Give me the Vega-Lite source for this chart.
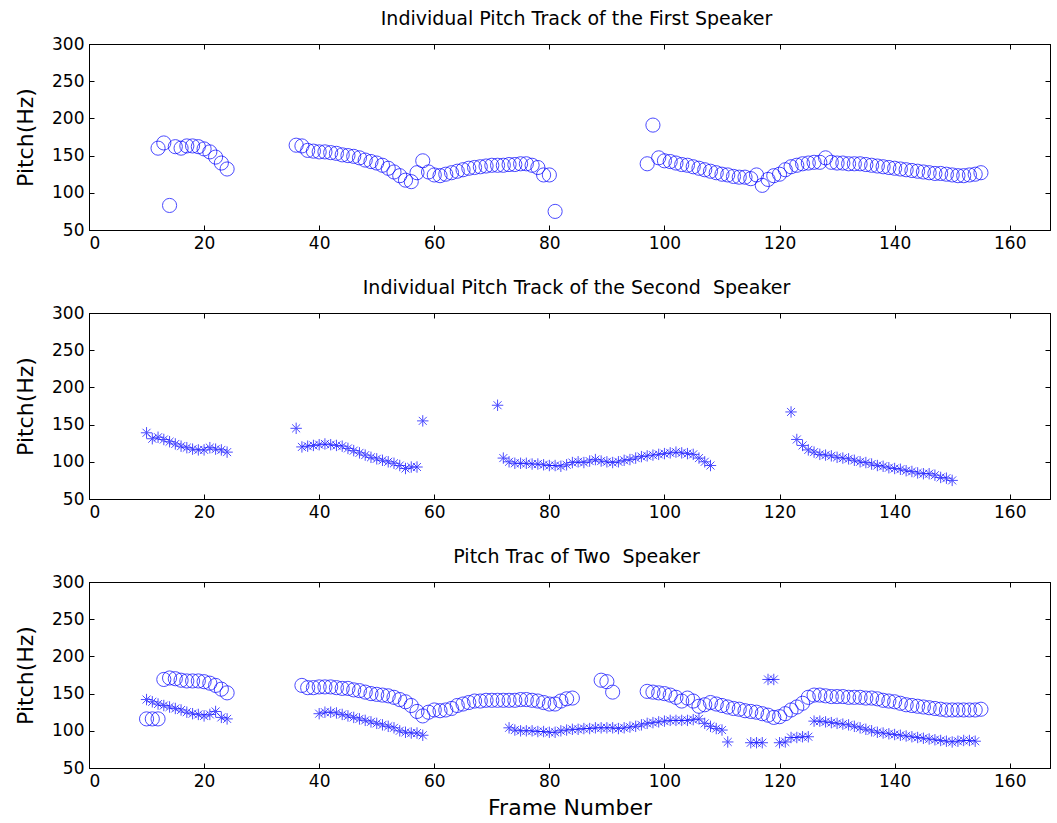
{
  "$schema": "https://vega.github.io/schema/vega-lite/v6.json",
  "bounds": "flush",
  "spacing": 83,
  "padding": {"left": 14, "top": 9, "right": 0, "bottom": 0},
  "background": "white",
  "datasets": {
    "first": [
      {"frame": 12, "pitch": 160, "speaker": "first"}, {"frame": 13, "pitch": 167, "speaker": "first"}, {"frame": 14, "pitch": 83, "speaker": "first"},
      {"frame": 15, "pitch": 162, "speaker": "first"}, {"frame": 16, "pitch": 160, "speaker": "first"}, {"frame": 17, "pitch": 163, "speaker": "first"},
      {"frame": 18, "pitch": 163, "speaker": "first"}, {"frame": 19, "pitch": 162, "speaker": "first"}, {"frame": 20, "pitch": 159, "speaker": "first"},
      {"frame": 21, "pitch": 155, "speaker": "first"}, {"frame": 22, "pitch": 148, "speaker": "first"}, {"frame": 23, "pitch": 140, "speaker": "first"},
      {"frame": 24, "pitch": 132, "speaker": "first"},
      {"frame": 36, "pitch": 164, "speaker": "first"}, {"frame": 37, "pitch": 163, "speaker": "first"}, {"frame": 38, "pitch": 157, "speaker": "first"},
      {"frame": 39, "pitch": 156, "speaker": "first"}, {"frame": 40, "pitch": 155, "speaker": "first"}, {"frame": 41, "pitch": 155, "speaker": "first"},
      {"frame": 42, "pitch": 154, "speaker": "first"}, {"frame": 43, "pitch": 153, "speaker": "first"}, {"frame": 44, "pitch": 151, "speaker": "first"},
      {"frame": 45, "pitch": 150, "speaker": "first"}, {"frame": 46, "pitch": 149, "speaker": "first"}, {"frame": 47, "pitch": 147, "speaker": "first"},
      {"frame": 48, "pitch": 144, "speaker": "first"}, {"frame": 49, "pitch": 142, "speaker": "first"}, {"frame": 50, "pitch": 140, "speaker": "first"},
      {"frame": 51, "pitch": 137, "speaker": "first"}, {"frame": 52, "pitch": 133, "speaker": "first"}, {"frame": 53, "pitch": 128, "speaker": "first"},
      {"frame": 54, "pitch": 123, "speaker": "first"}, {"frame": 55, "pitch": 117, "speaker": "first"}, {"frame": 56, "pitch": 115, "speaker": "first"},
      {"frame": 57, "pitch": 127, "speaker": "first"}, {"frame": 58, "pitch": 143, "speaker": "first"}, {"frame": 59, "pitch": 128, "speaker": "first"},
      {"frame": 60, "pitch": 124, "speaker": "first"}, {"frame": 61, "pitch": 123, "speaker": "first"}, {"frame": 62, "pitch": 125, "speaker": "first"},
      {"frame": 63, "pitch": 127, "speaker": "first"}, {"frame": 64, "pitch": 129, "speaker": "first"}, {"frame": 65, "pitch": 131, "speaker": "first"},
      {"frame": 66, "pitch": 133, "speaker": "first"}, {"frame": 67, "pitch": 134, "speaker": "first"}, {"frame": 68, "pitch": 135, "speaker": "first"},
      {"frame": 69, "pitch": 136, "speaker": "first"}, {"frame": 70, "pitch": 137, "speaker": "first"}, {"frame": 71, "pitch": 137, "speaker": "first"},
      {"frame": 72, "pitch": 137, "speaker": "first"}, {"frame": 73, "pitch": 138, "speaker": "first"}, {"frame": 74, "pitch": 138, "speaker": "first"},
      {"frame": 75, "pitch": 139, "speaker": "first"}, {"frame": 76, "pitch": 139, "speaker": "first"}, {"frame": 77, "pitch": 137, "speaker": "first"},
      {"frame": 78, "pitch": 134, "speaker": "first"}, {"frame": 79, "pitch": 124, "speaker": "first"}, {"frame": 80, "pitch": 124, "speaker": "first"},
      {"frame": 81, "pitch": 75, "speaker": "first"},
      {"frame": 97, "pitch": 139, "speaker": "first"}, {"frame": 98, "pitch": 191, "speaker": "first"}, {"frame": 99, "pitch": 147, "speaker": "first"},
      {"frame": 100, "pitch": 143, "speaker": "first"}, {"frame": 101, "pitch": 142, "speaker": "first"}, {"frame": 102, "pitch": 140, "speaker": "first"},
      {"frame": 103, "pitch": 138, "speaker": "first"}, {"frame": 104, "pitch": 137, "speaker": "first"}, {"frame": 105, "pitch": 135, "speaker": "first"},
      {"frame": 106, "pitch": 133, "speaker": "first"}, {"frame": 107, "pitch": 131, "speaker": "first"}, {"frame": 108, "pitch": 129, "speaker": "first"},
      {"frame": 109, "pitch": 127, "speaker": "first"}, {"frame": 110, "pitch": 125, "speaker": "first"}, {"frame": 111, "pitch": 124, "speaker": "first"},
      {"frame": 112, "pitch": 122, "speaker": "first"}, {"frame": 113, "pitch": 121, "speaker": "first"}, {"frame": 114, "pitch": 121, "speaker": "first"},
      {"frame": 115, "pitch": 119, "speaker": "first"}, {"frame": 116, "pitch": 124, "speaker": "first"}, {"frame": 117, "pitch": 110, "speaker": "first"},
      {"frame": 118, "pitch": 118, "speaker": "first"}, {"frame": 119, "pitch": 123, "speaker": "first"}, {"frame": 120, "pitch": 125, "speaker": "first"},
      {"frame": 121, "pitch": 131, "speaker": "first"}, {"frame": 122, "pitch": 135, "speaker": "first"}, {"frame": 123, "pitch": 137, "speaker": "first"},
      {"frame": 124, "pitch": 139, "speaker": "first"}, {"frame": 125, "pitch": 140, "speaker": "first"}, {"frame": 126, "pitch": 141, "speaker": "first"},
      {"frame": 127, "pitch": 141, "speaker": "first"}, {"frame": 128, "pitch": 147, "speaker": "first"}, {"frame": 129, "pitch": 141, "speaker": "first"},
      {"frame": 130, "pitch": 140, "speaker": "first"}, {"frame": 131, "pitch": 140, "speaker": "first"}, {"frame": 132, "pitch": 139, "speaker": "first"},
      {"frame": 133, "pitch": 139, "speaker": "first"}, {"frame": 134, "pitch": 139, "speaker": "first"}, {"frame": 135, "pitch": 138, "speaker": "first"},
      {"frame": 136, "pitch": 137, "speaker": "first"}, {"frame": 137, "pitch": 136, "speaker": "first"}, {"frame": 138, "pitch": 135, "speaker": "first"},
      {"frame": 139, "pitch": 134, "speaker": "first"}, {"frame": 140, "pitch": 133, "speaker": "first"}, {"frame": 141, "pitch": 132, "speaker": "first"},
      {"frame": 142, "pitch": 131, "speaker": "first"}, {"frame": 143, "pitch": 130, "speaker": "first"}, {"frame": 144, "pitch": 129, "speaker": "first"},
      {"frame": 145, "pitch": 128, "speaker": "first"}, {"frame": 146, "pitch": 127, "speaker": "first"}, {"frame": 147, "pitch": 126, "speaker": "first"},
      {"frame": 148, "pitch": 126, "speaker": "first"}, {"frame": 149, "pitch": 125, "speaker": "first"}, {"frame": 150, "pitch": 124, "speaker": "first"},
      {"frame": 151, "pitch": 123, "speaker": "first"}, {"frame": 152, "pitch": 123, "speaker": "first"}, {"frame": 153, "pitch": 124, "speaker": "first"},
      {"frame": 154, "pitch": 125, "speaker": "first"}, {"frame": 155, "pitch": 127, "speaker": "first"}
    ],
    "second": [
      {"frame": 10, "pitch": 139, "speaker": "second"}, {"frame": 11, "pitch": 131, "speaker": "second"}, {"frame": 12, "pitch": 133, "speaker": "second"},
      {"frame": 13, "pitch": 130, "speaker": "second"}, {"frame": 14, "pitch": 127, "speaker": "second"}, {"frame": 15, "pitch": 124, "speaker": "second"},
      {"frame": 16, "pitch": 121, "speaker": "second"}, {"frame": 17, "pitch": 119, "speaker": "second"}, {"frame": 18, "pitch": 117, "speaker": "second"},
      {"frame": 19, "pitch": 116, "speaker": "second"}, {"frame": 20, "pitch": 116, "speaker": "second"}, {"frame": 21, "pitch": 119, "speaker": "second"},
      {"frame": 22, "pitch": 117, "speaker": "second"}, {"frame": 23, "pitch": 116, "speaker": "second"}, {"frame": 24, "pitch": 113, "speaker": "second"},
      {"frame": 36, "pitch": 145, "speaker": "second"}, {"frame": 37, "pitch": 120, "speaker": "second"}, {"frame": 38, "pitch": 121, "speaker": "second"},
      {"frame": 39, "pitch": 122, "speaker": "second"}, {"frame": 40, "pitch": 123, "speaker": "second"}, {"frame": 41, "pitch": 124, "speaker": "second"},
      {"frame": 42, "pitch": 123, "speaker": "second"}, {"frame": 43, "pitch": 122, "speaker": "second"}, {"frame": 44, "pitch": 121, "speaker": "second"},
      {"frame": 45, "pitch": 118, "speaker": "second"}, {"frame": 46, "pitch": 115, "speaker": "second"}, {"frame": 47, "pitch": 112, "speaker": "second"},
      {"frame": 48, "pitch": 109, "speaker": "second"}, {"frame": 49, "pitch": 106, "speaker": "second"}, {"frame": 50, "pitch": 104, "speaker": "second"},
      {"frame": 51, "pitch": 102, "speaker": "second"}, {"frame": 52, "pitch": 100, "speaker": "second"}, {"frame": 53, "pitch": 98, "speaker": "second"},
      {"frame": 54, "pitch": 95, "speaker": "second"}, {"frame": 55, "pitch": 91, "speaker": "second"}, {"frame": 56, "pitch": 93, "speaker": "second"},
      {"frame": 57, "pitch": 93, "speaker": "second"}, {"frame": 58, "pitch": 155, "speaker": "second"},
      {"frame": 71, "pitch": 176, "speaker": "second"}, {"frame": 72, "pitch": 105, "speaker": "second"}, {"frame": 73, "pitch": 100, "speaker": "second"},
      {"frame": 74, "pitch": 98, "speaker": "second"}, {"frame": 75, "pitch": 98, "speaker": "second"}, {"frame": 76, "pitch": 98, "speaker": "second"},
      {"frame": 77, "pitch": 97, "speaker": "second"}, {"frame": 78, "pitch": 97, "speaker": "second"}, {"frame": 79, "pitch": 96, "speaker": "second"},
      {"frame": 80, "pitch": 95, "speaker": "second"}, {"frame": 81, "pitch": 95, "speaker": "second"}, {"frame": 82, "pitch": 94, "speaker": "second"},
      {"frame": 83, "pitch": 96, "speaker": "second"}, {"frame": 84, "pitch": 99, "speaker": "second"}, {"frame": 85, "pitch": 100, "speaker": "second"},
      {"frame": 86, "pitch": 99, "speaker": "second"}, {"frame": 87, "pitch": 101, "speaker": "second"}, {"frame": 88, "pitch": 103, "speaker": "second"},
      {"frame": 89, "pitch": 101, "speaker": "second"}, {"frame": 90, "pitch": 100, "speaker": "second"}, {"frame": 91, "pitch": 99, "speaker": "second"},
      {"frame": 92, "pitch": 100, "speaker": "second"}, {"frame": 93, "pitch": 102, "speaker": "second"}, {"frame": 94, "pitch": 103, "speaker": "second"},
      {"frame": 95, "pitch": 105, "speaker": "second"}, {"frame": 96, "pitch": 107, "speaker": "second"}, {"frame": 97, "pitch": 108, "speaker": "second"},
      {"frame": 98, "pitch": 109, "speaker": "second"}, {"frame": 99, "pitch": 110, "speaker": "second"}, {"frame": 100, "pitch": 111, "speaker": "second"},
      {"frame": 101, "pitch": 112, "speaker": "second"}, {"frame": 102, "pitch": 113, "speaker": "second"}, {"frame": 103, "pitch": 112, "speaker": "second"},
      {"frame": 104, "pitch": 111, "speaker": "second"}, {"frame": 105, "pitch": 110, "speaker": "second"}, {"frame": 106, "pitch": 105, "speaker": "second"},
      {"frame": 107, "pitch": 100, "speaker": "second"}, {"frame": 108, "pitch": 95, "speaker": "second"},
      {"frame": 122, "pitch": 167, "speaker": "second"}, {"frame": 123, "pitch": 130, "speaker": "second"}, {"frame": 124, "pitch": 122, "speaker": "second"},
      {"frame": 125, "pitch": 116, "speaker": "second"}, {"frame": 126, "pitch": 113, "speaker": "second"}, {"frame": 127, "pitch": 110, "speaker": "second"},
      {"frame": 128, "pitch": 109, "speaker": "second"}, {"frame": 129, "pitch": 108, "speaker": "second"}, {"frame": 130, "pitch": 106, "speaker": "second"},
      {"frame": 131, "pitch": 105, "speaker": "second"}, {"frame": 132, "pitch": 104, "speaker": "second"}, {"frame": 133, "pitch": 102, "speaker": "second"},
      {"frame": 134, "pitch": 100, "speaker": "second"}, {"frame": 135, "pitch": 99, "speaker": "second"}, {"frame": 136, "pitch": 97, "speaker": "second"},
      {"frame": 137, "pitch": 95, "speaker": "second"}, {"frame": 138, "pitch": 94, "speaker": "second"}, {"frame": 139, "pitch": 92, "speaker": "second"},
      {"frame": 140, "pitch": 91, "speaker": "second"}, {"frame": 141, "pitch": 90, "speaker": "second"}, {"frame": 142, "pitch": 88, "speaker": "second"},
      {"frame": 143, "pitch": 87, "speaker": "second"}, {"frame": 144, "pitch": 85, "speaker": "second"}, {"frame": 145, "pitch": 84, "speaker": "second"},
      {"frame": 146, "pitch": 84, "speaker": "second"}, {"frame": 147, "pitch": 82, "speaker": "second"}, {"frame": 148, "pitch": 79, "speaker": "second"},
      {"frame": 149, "pitch": 78, "speaker": "second"}, {"frame": 150, "pitch": 75, "speaker": "second"}
    ],
    "mixture": [
      {"frame": 10, "pitch": 116, "speaker": "first"}, {"frame": 11, "pitch": 116, "speaker": "first"}, {"frame": 12, "pitch": 116, "speaker": "first"},
      {"frame": 13, "pitch": 169, "speaker": "first"}, {"frame": 14, "pitch": 171, "speaker": "first"}, {"frame": 15, "pitch": 170, "speaker": "first"},
      {"frame": 16, "pitch": 168, "speaker": "first"}, {"frame": 17, "pitch": 167, "speaker": "first"}, {"frame": 18, "pitch": 167, "speaker": "first"},
      {"frame": 19, "pitch": 167, "speaker": "first"}, {"frame": 20, "pitch": 166, "speaker": "first"}, {"frame": 21, "pitch": 164, "speaker": "first"},
      {"frame": 22, "pitch": 161, "speaker": "first"}, {"frame": 23, "pitch": 156, "speaker": "first"}, {"frame": 24, "pitch": 151, "speaker": "first"},
      {"frame": 37, "pitch": 161, "speaker": "first"}, {"frame": 38, "pitch": 158, "speaker": "first"}, {"frame": 39, "pitch": 158, "speaker": "first"},
      {"frame": 40, "pitch": 159, "speaker": "first"}, {"frame": 41, "pitch": 159, "speaker": "first"}, {"frame": 42, "pitch": 159, "speaker": "first"},
      {"frame": 43, "pitch": 158, "speaker": "first"}, {"frame": 44, "pitch": 157, "speaker": "first"}, {"frame": 45, "pitch": 157, "speaker": "first"},
      {"frame": 46, "pitch": 155, "speaker": "first"}, {"frame": 47, "pitch": 154, "speaker": "first"}, {"frame": 48, "pitch": 152, "speaker": "first"},
      {"frame": 49, "pitch": 150, "speaker": "first"}, {"frame": 50, "pitch": 149, "speaker": "first"}, {"frame": 51, "pitch": 148, "speaker": "first"},
      {"frame": 52, "pitch": 147, "speaker": "first"}, {"frame": 53, "pitch": 145, "speaker": "first"}, {"frame": 54, "pitch": 142, "speaker": "first"},
      {"frame": 55, "pitch": 139, "speaker": "first"}, {"frame": 56, "pitch": 134, "speaker": "first"}, {"frame": 57, "pitch": 126, "speaker": "first"},
      {"frame": 58, "pitch": 120, "speaker": "first"}, {"frame": 59, "pitch": 125, "speaker": "first"}, {"frame": 60, "pitch": 128, "speaker": "first"},
      {"frame": 61, "pitch": 127, "speaker": "first"}, {"frame": 62, "pitch": 128, "speaker": "first"}, {"frame": 63, "pitch": 130, "speaker": "first"},
      {"frame": 64, "pitch": 134, "speaker": "first"}, {"frame": 65, "pitch": 136, "speaker": "first"}, {"frame": 66, "pitch": 138, "speaker": "first"},
      {"frame": 67, "pitch": 140, "speaker": "first"}, {"frame": 68, "pitch": 140, "speaker": "first"}, {"frame": 69, "pitch": 141, "speaker": "first"},
      {"frame": 70, "pitch": 141, "speaker": "first"}, {"frame": 71, "pitch": 141, "speaker": "first"}, {"frame": 72, "pitch": 141, "speaker": "first"},
      {"frame": 73, "pitch": 141, "speaker": "first"}, {"frame": 74, "pitch": 141, "speaker": "first"}, {"frame": 75, "pitch": 142, "speaker": "first"},
      {"frame": 76, "pitch": 142, "speaker": "first"}, {"frame": 77, "pitch": 141, "speaker": "first"}, {"frame": 78, "pitch": 140, "speaker": "first"},
      {"frame": 79, "pitch": 138, "speaker": "first"}, {"frame": 80, "pitch": 136, "speaker": "first"}, {"frame": 81, "pitch": 136, "speaker": "first"},
      {"frame": 82, "pitch": 140, "speaker": "first"}, {"frame": 83, "pitch": 143, "speaker": "first"}, {"frame": 84, "pitch": 144, "speaker": "first"},
      {"frame": 89, "pitch": 168, "speaker": "first"}, {"frame": 90, "pitch": 166, "speaker": "first"}, {"frame": 91, "pitch": 152, "speaker": "first"},
      {"frame": 97, "pitch": 153, "speaker": "first"}, {"frame": 98, "pitch": 152, "speaker": "first"}, {"frame": 99, "pitch": 151, "speaker": "first"},
      {"frame": 100, "pitch": 150, "speaker": "first"}, {"frame": 101, "pitch": 148, "speaker": "first"}, {"frame": 102, "pitch": 145, "speaker": "first"},
      {"frame": 103, "pitch": 140, "speaker": "first"}, {"frame": 104, "pitch": 144, "speaker": "first"}, {"frame": 105, "pitch": 140, "speaker": "first"},
      {"frame": 106, "pitch": 133, "speaker": "first"}, {"frame": 107, "pitch": 135, "speaker": "first"}, {"frame": 108, "pitch": 138, "speaker": "first"},
      {"frame": 109, "pitch": 136, "speaker": "first"}, {"frame": 110, "pitch": 134, "speaker": "first"}, {"frame": 111, "pitch": 132, "speaker": "first"},
      {"frame": 112, "pitch": 130, "speaker": "first"}, {"frame": 113, "pitch": 129, "speaker": "first"}, {"frame": 114, "pitch": 127, "speaker": "first"},
      {"frame": 115, "pitch": 126, "speaker": "first"}, {"frame": 116, "pitch": 125, "speaker": "first"}, {"frame": 117, "pitch": 123, "speaker": "first"},
      {"frame": 118, "pitch": 121, "speaker": "first"}, {"frame": 119, "pitch": 118, "speaker": "first"}, {"frame": 120, "pitch": 119, "speaker": "first"},
      {"frame": 121, "pitch": 123, "speaker": "first"}, {"frame": 122, "pitch": 128, "speaker": "first"}, {"frame": 123, "pitch": 132, "speaker": "first"},
      {"frame": 124, "pitch": 137, "speaker": "first"}, {"frame": 125, "pitch": 145, "speaker": "first"}, {"frame": 126, "pitch": 148, "speaker": "first"},
      {"frame": 127, "pitch": 148, "speaker": "first"}, {"frame": 128, "pitch": 147, "speaker": "first"}, {"frame": 129, "pitch": 146, "speaker": "first"},
      {"frame": 130, "pitch": 146, "speaker": "first"}, {"frame": 131, "pitch": 146, "speaker": "first"}, {"frame": 132, "pitch": 145, "speaker": "first"},
      {"frame": 133, "pitch": 145, "speaker": "first"}, {"frame": 134, "pitch": 145, "speaker": "first"}, {"frame": 135, "pitch": 144, "speaker": "first"},
      {"frame": 136, "pitch": 144, "speaker": "first"}, {"frame": 137, "pitch": 143, "speaker": "first"}, {"frame": 138, "pitch": 141, "speaker": "first"},
      {"frame": 139, "pitch": 140, "speaker": "first"}, {"frame": 140, "pitch": 139, "speaker": "first"}, {"frame": 141, "pitch": 137, "speaker": "first"},
      {"frame": 142, "pitch": 135, "speaker": "first"}, {"frame": 143, "pitch": 134, "speaker": "first"}, {"frame": 144, "pitch": 133, "speaker": "first"},
      {"frame": 145, "pitch": 132, "speaker": "first"}, {"frame": 146, "pitch": 131, "speaker": "first"}, {"frame": 147, "pitch": 130, "speaker": "first"},
      {"frame": 148, "pitch": 129, "speaker": "first"}, {"frame": 149, "pitch": 128, "speaker": "first"}, {"frame": 150, "pitch": 128, "speaker": "first"},
      {"frame": 151, "pitch": 128, "speaker": "first"}, {"frame": 152, "pitch": 128, "speaker": "first"}, {"frame": 153, "pitch": 128, "speaker": "first"},
      {"frame": 154, "pitch": 128, "speaker": "first"}, {"frame": 155, "pitch": 129, "speaker": "first"},
      {"frame": 10, "pitch": 142, "speaker": "second"}, {"frame": 11, "pitch": 139, "speaker": "second"}, {"frame": 12, "pitch": 136, "speaker": "second"},
      {"frame": 13, "pitch": 134, "speaker": "second"}, {"frame": 14, "pitch": 132, "speaker": "second"}, {"frame": 15, "pitch": 130, "speaker": "second"},
      {"frame": 16, "pitch": 128, "speaker": "second"}, {"frame": 17, "pitch": 125, "speaker": "second"}, {"frame": 18, "pitch": 123, "speaker": "second"},
      {"frame": 19, "pitch": 122, "speaker": "second"}, {"frame": 20, "pitch": 120, "speaker": "second"}, {"frame": 21, "pitch": 122, "speaker": "second"},
      {"frame": 22, "pitch": 126, "speaker": "second"}, {"frame": 23, "pitch": 118, "speaker": "second"}, {"frame": 24, "pitch": 116, "speaker": "second"},
      {"frame": 40, "pitch": 123, "speaker": "second"}, {"frame": 41, "pitch": 125, "speaker": "second"}, {"frame": 42, "pitch": 125, "speaker": "second"},
      {"frame": 43, "pitch": 124, "speaker": "second"}, {"frame": 44, "pitch": 122, "speaker": "second"}, {"frame": 45, "pitch": 120, "speaker": "second"},
      {"frame": 46, "pitch": 118, "speaker": "second"}, {"frame": 47, "pitch": 116, "speaker": "second"}, {"frame": 48, "pitch": 114, "speaker": "second"},
      {"frame": 49, "pitch": 112, "speaker": "second"}, {"frame": 50, "pitch": 110, "speaker": "second"}, {"frame": 51, "pitch": 108, "speaker": "second"},
      {"frame": 52, "pitch": 106, "speaker": "second"}, {"frame": 53, "pitch": 104, "speaker": "second"}, {"frame": 54, "pitch": 100, "speaker": "second"},
      {"frame": 55, "pitch": 98, "speaker": "second"}, {"frame": 56, "pitch": 97, "speaker": "second"}, {"frame": 57, "pitch": 97, "speaker": "second"},
      {"frame": 58, "pitch": 94, "speaker": "second"},
      {"frame": 73, "pitch": 104, "speaker": "second"}, {"frame": 74, "pitch": 101, "speaker": "second"}, {"frame": 75, "pitch": 100, "speaker": "second"},
      {"frame": 76, "pitch": 100, "speaker": "second"}, {"frame": 77, "pitch": 100, "speaker": "second"}, {"frame": 78, "pitch": 99, "speaker": "second"},
      {"frame": 79, "pitch": 99, "speaker": "second"}, {"frame": 80, "pitch": 98, "speaker": "second"}, {"frame": 81, "pitch": 98, "speaker": "second"},
      {"frame": 82, "pitch": 100, "speaker": "second"}, {"frame": 83, "pitch": 101, "speaker": "second"}, {"frame": 84, "pitch": 102, "speaker": "second"},
      {"frame": 85, "pitch": 102, "speaker": "second"}, {"frame": 86, "pitch": 103, "speaker": "second"}, {"frame": 87, "pitch": 103, "speaker": "second"},
      {"frame": 88, "pitch": 104, "speaker": "second"}, {"frame": 89, "pitch": 104, "speaker": "second"}, {"frame": 90, "pitch": 104, "speaker": "second"},
      {"frame": 91, "pitch": 104, "speaker": "second"}, {"frame": 92, "pitch": 103, "speaker": "second"}, {"frame": 93, "pitch": 104, "speaker": "second"},
      {"frame": 94, "pitch": 105, "speaker": "second"}, {"frame": 95, "pitch": 106, "speaker": "second"}, {"frame": 96, "pitch": 108, "speaker": "second"},
      {"frame": 97, "pitch": 110, "speaker": "second"}, {"frame": 98, "pitch": 111, "speaker": "second"}, {"frame": 99, "pitch": 112, "speaker": "second"},
      {"frame": 100, "pitch": 113, "speaker": "second"}, {"frame": 101, "pitch": 114, "speaker": "second"}, {"frame": 102, "pitch": 114, "speaker": "second"},
      {"frame": 103, "pitch": 114, "speaker": "second"}, {"frame": 104, "pitch": 114, "speaker": "second"}, {"frame": 105, "pitch": 115, "speaker": "second"},
      {"frame": 106, "pitch": 116, "speaker": "second"}, {"frame": 107, "pitch": 110, "speaker": "second"}, {"frame": 108, "pitch": 106, "speaker": "second"},
      {"frame": 109, "pitch": 103, "speaker": "second"}, {"frame": 110, "pitch": 101, "speaker": "second"}, {"frame": 111, "pitch": 85, "speaker": "second"},
      {"frame": 115, "pitch": 84, "speaker": "second"}, {"frame": 116, "pitch": 84, "speaker": "second"}, {"frame": 117, "pitch": 84, "speaker": "second"},
      {"frame": 118, "pitch": 169, "speaker": "second"}, {"frame": 119, "pitch": 169, "speaker": "second"}, {"frame": 120, "pitch": 84, "speaker": "second"},
      {"frame": 121, "pitch": 85, "speaker": "second"}, {"frame": 122, "pitch": 91, "speaker": "second"}, {"frame": 123, "pitch": 91, "speaker": "second"},
      {"frame": 124, "pitch": 92, "speaker": "second"}, {"frame": 125, "pitch": 92, "speaker": "second"}, {"frame": 126, "pitch": 113, "speaker": "second"},
      {"frame": 127, "pitch": 113, "speaker": "second"}, {"frame": 128, "pitch": 112, "speaker": "second"}, {"frame": 129, "pitch": 111, "speaker": "second"},
      {"frame": 130, "pitch": 110, "speaker": "second"}, {"frame": 131, "pitch": 109, "speaker": "second"}, {"frame": 132, "pitch": 108, "speaker": "second"},
      {"frame": 133, "pitch": 106, "speaker": "second"}, {"frame": 134, "pitch": 104, "speaker": "second"}, {"frame": 135, "pitch": 102, "speaker": "second"},
      {"frame": 136, "pitch": 100, "speaker": "second"}, {"frame": 137, "pitch": 98, "speaker": "second"}, {"frame": 138, "pitch": 97, "speaker": "second"},
      {"frame": 139, "pitch": 96, "speaker": "second"}, {"frame": 140, "pitch": 95, "speaker": "second"}, {"frame": 141, "pitch": 94, "speaker": "second"},
      {"frame": 142, "pitch": 93, "speaker": "second"}, {"frame": 143, "pitch": 92, "speaker": "second"}, {"frame": 144, "pitch": 91, "speaker": "second"},
      {"frame": 145, "pitch": 90, "speaker": "second"}, {"frame": 146, "pitch": 89, "speaker": "second"}, {"frame": 147, "pitch": 88, "speaker": "second"},
      {"frame": 148, "pitch": 87, "speaker": "second"}, {"frame": 149, "pitch": 86, "speaker": "second"}, {"frame": 150, "pitch": 85, "speaker": "second"},
      {"frame": 151, "pitch": 86, "speaker": "second"}, {"frame": 152, "pitch": 87, "speaker": "second"}, {"frame": 153, "pitch": 87, "speaker": "second"},
      {"frame": 154, "pitch": 86, "speaker": "second"}
    ]
  },
  "vconcat": [
    {
      "title": "Individual Pitch Track of the First Speaker",
      "data": {"name": "first"},
      "width": 961,
      "height": 186,
      "layer": [
        {
          "mark": {"type": "point", "filled": false, "stroke": "#0000ff", "strokeWidth": 1},
          "encoding": {
            "x": {"field": "frame", "type": "quantitative", "scale": {"domain": [0, 167], "nice": false, "zero": false},
                  "axis": {"orient": "bottom", "title": null, "values": [0, 20, 40, 60, 80, 100, 120, 140, 160]}},
            "y": {"field": "pitch", "type": "quantitative", "scale": {"domain": [50, 300], "nice": false, "zero": false},
                  "axis": {"orient": "left", "title": "Pitch(Hz)", "values": [50, 100, 150, 200, 250, 300]}},
            "shape": {"field": "speaker", "type": "nominal", "legend": null,
                      "scale": {"domain": ["first", "second"], "range": ["circle", "M-1,0L1,0M0,-1L0,1M-0.7,-0.7L0.7,0.7M-0.7,0.7L0.7,-0.7"]}},
            "size": {"field": "speaker", "type": "nominal", "legend": null,
                     "scale": {"domain": ["first", "second"], "range": [200, 130]}}
          }
        },
        {
          "mark": {"type": "point", "opacity": 0},
          "encoding": {
            "x": {"field": "frame", "type": "quantitative", "axis": {"orient": "top", "title": null, "labels": false, "values": [0, 20, 40, 60, 80, 100, 120, 140, 160]}},
            "y": {"field": "pitch", "type": "quantitative", "axis": {"orient": "right", "title": null, "labels": false, "values": [50, 100, 150, 200, 250, 300]}}
          }
        }
      ],
      "resolve": {"axis": {"x": "independent", "y": "independent"}}
    },
    {
      "title": "Individual Pitch Track of the Second\u00a0 Speaker",
      "data": {"name": "second"},
      "width": 961,
      "height": 186,
      "layer": [
        {
          "mark": {"type": "point", "filled": false, "stroke": "#0000ff", "strokeWidth": 1},
          "encoding": {
            "x": {"field": "frame", "type": "quantitative", "scale": {"domain": [0, 167], "nice": false, "zero": false},
                  "axis": {"orient": "bottom", "title": null, "values": [0, 20, 40, 60, 80, 100, 120, 140, 160]}},
            "y": {"field": "pitch", "type": "quantitative", "scale": {"domain": [50, 300], "nice": false, "zero": false},
                  "axis": {"orient": "left", "title": "Pitch(Hz)", "values": [50, 100, 150, 200, 250, 300]}},
            "shape": {"field": "speaker", "type": "nominal", "legend": null,
                      "scale": {"domain": ["first", "second"], "range": ["circle", "M-1,0L1,0M0,-1L0,1M-0.7,-0.7L0.7,0.7M-0.7,0.7L0.7,-0.7"]}},
            "size": {"field": "speaker", "type": "nominal", "legend": null,
                     "scale": {"domain": ["first", "second"], "range": [200, 130]}}
          }
        },
        {
          "mark": {"type": "point", "opacity": 0},
          "encoding": {
            "x": {"field": "frame", "type": "quantitative", "axis": {"orient": "top", "title": null, "labels": false, "values": [0, 20, 40, 60, 80, 100, 120, 140, 160]}},
            "y": {"field": "pitch", "type": "quantitative", "axis": {"orient": "right", "title": null, "labels": false, "values": [50, 100, 150, 200, 250, 300]}}
          }
        }
      ],
      "resolve": {"axis": {"x": "independent", "y": "independent"}}
    },
    {
      "title": "Pitch Trac of Two\u00a0 Speaker",
      "data": {"name": "mixture"},
      "width": 961,
      "height": 186,
      "layer": [
        {
          "mark": {"type": "point", "filled": false, "stroke": "#0000ff", "strokeWidth": 1},
          "encoding": {
            "x": {"field": "frame", "type": "quantitative", "scale": {"domain": [0, 167], "nice": false, "zero": false},
                  "axis": {"orient": "bottom", "title": "Frame Number", "values": [0, 20, 40, 60, 80, 100, 120, 140, 160]}},
            "y": {"field": "pitch", "type": "quantitative", "scale": {"domain": [50, 300], "nice": false, "zero": false},
                  "axis": {"orient": "left", "title": "Pitch(Hz)", "values": [50, 100, 150, 200, 250, 300]}},
            "shape": {"field": "speaker", "type": "nominal", "legend": null,
                      "scale": {"domain": ["first", "second"], "range": ["circle", "M-1,0L1,0M0,-1L0,1M-0.7,-0.7L0.7,0.7M-0.7,0.7L0.7,-0.7"]}},
            "size": {"field": "speaker", "type": "nominal", "legend": null,
                     "scale": {"domain": ["first", "second"], "range": [200, 130]}}
          }
        },
        {
          "mark": {"type": "point", "opacity": 0},
          "encoding": {
            "x": {"field": "frame", "type": "quantitative", "axis": {"orient": "top", "title": null, "labels": false, "values": [0, 20, 40, 60, 80, 100, 120, 140, 160]}},
            "y": {"field": "pitch", "type": "quantitative", "axis": {"orient": "right", "title": null, "labels": false, "values": [50, 100, 150, 200, 250, 300]}}
          }
        }
      ],
      "resolve": {"axis": {"x": "independent", "y": "independent"}}
    }
  ],
  "config": {
    "font": "DejaVu Sans",
    "view": {"stroke": "black", "strokeWidth": 1},
    "axis": {
      "grid": false,
      "domainColor": "black",
      "domainWidth": 1,
      "tickColor": "black",
      "tickWidth": 1,
      "tickSize": -5,
      "labelFont": "DejaVu Sans",
      "labelFontSize": 17,
      "labelColor": "black",
      "labelPadding": 10,
      "titleFont": "DejaVu Sans",
      "titleFontSize": 22,
      "titleFontWeight": "normal",
      "titleColor": "black"
    },
    "axisY": {"titlePadding": 14},
    "axisX": {"titlePadding": 8},
    "title": {"font": "DejaVu Sans", "fontSize": 19, "fontWeight": "normal", "color": "black", "offset": 6, "dx": 7}
  }
}
